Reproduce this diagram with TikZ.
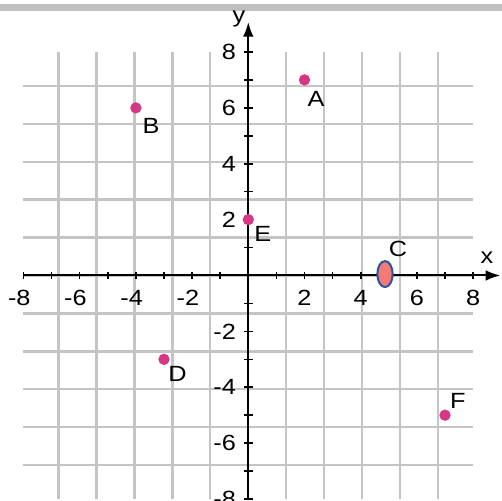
\documentclass[tikz,border=0pt]{standalone}
\usepackage{fontspec}
\setmainfont[FakeStretch=1.15]{Liberation Sans}
\usetikzlibrary{arrows.meta,shapes.geometric}
\definecolor{gridgray}{RGB}{196,196,196}
\definecolor{bargray}{RGB}{192,192,192}
\definecolor{dotpink}{RGB}{214,55,133}
\definecolor{ovalfill}{RGB}{244,122,118}
\definecolor{ovalblue}{RGB}{44,82,160}

\begin{document}
\begin{tikzpicture}[x=21.075pt,y=20.955pt,
  gridline/.style={draw=gridgray,line width=1.7pt},
  axisline/.style={draw=black,line width=1.5pt,-{Latex[length=11pt,width=8pt]}},
  tickmark/.style={line width=1.2pt},
  ticklabel/.style={inner sep=0pt,font=\fontsize{16.5}{19}\selectfont},
  dot/.style={circle,fill=dotpink,inner sep=0pt,minimum size=8.5pt},
  ptlabel/.style={inner sep=0pt,font=\fontsize{16.5}{19}\selectfont}]
\useasboundingbox (-8.836,-8.07) rectangle (9.028,9.86);

%top bar
\fill[bargray] (-8.836,9.478) rectangle (9.028,9.717);

%grid
\draw[gridline] (-8,-8) grid (8,8);

%axes
\coordinate (xstart) at (-8,0);
\coordinate (xend) at (8.97,0);
\coordinate (ystart) at (0,-8);
\coordinate (yend) at (0,9.07);
\draw[axisline] (xstart) -- (xend);
\draw[axisline] (ystart) -- (yend);
\node[ptlabel] (xname) at (8.49,0.63) {x};
\node[ptlabel] (yname) at (-0.33,9.18) {y};

%ticks
\foreach \i in {-8,...,8}{
  \draw[tickmark] (\i,-0.14) -- (\i,0.14);
  \draw[tickmark] (-0.15,\i) -- (0.15,\i);
}

%tick labels
\foreach \i in {2,4,6,8}{
  \node[ticklabel] (xp\i) at (\i,-0.8) {\i};
  \node[ticklabel] (xm\i) at (-\i,-0.8) {\llap{-}\i};
  \node[ticklabel,anchor=east] (yp\i) at (-0.43,\i) {\i};
  \node[ticklabel,anchor=east] (ym\i) at (-0.43,-\i) {-\i};
}

%points
\node[dot] (A) at (2,7) {};
\node[dot] (B) at (-4,6) {};
\node[ellipse,draw=ovalblue,fill=ovalfill,line width=1.5pt,inner sep=0pt,
  minimum width=11.5pt,minimum height=19.5pt] (C) at (4.865,0.05) {};
\node[dot] (D) at (-3,-3) {};
\node[dot] (E) at (0,2) {};
\node[dot] (F) at (7,-5) {};

% Text Node
\node[ptlabel] (labA) at (2.41,6.32) {A};
\node[ptlabel] (labB) at (-3.46,5.37) {B};
\node[ptlabel] (labC) at (5.33,0.95) {C};
\node[ptlabel] (labD) at (-2.52,-3.53) {D};
\node[ptlabel] (labE) at (0.52,1.50) {E};
\node[ptlabel] (labF) at (7.46,-4.49) {F};

\end{tikzpicture}
\end{document}
